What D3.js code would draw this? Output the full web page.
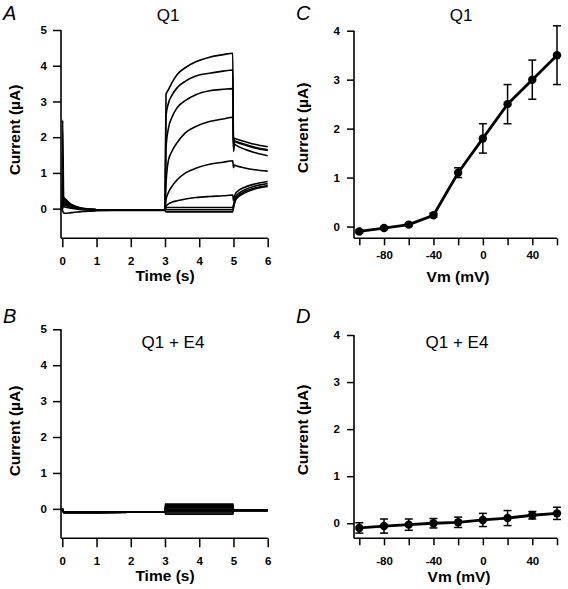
<!DOCTYPE html>
<html><head><meta charset="utf-8">
<script src="https://cdn.jsdelivr.net/npm/d3@7"></script>
<style>
body{margin:0;background:#fff}
svg{display:block}
text{font-family:"Liberation Sans",Arial,Helvetica,sans-serif;fill:#000}
</style>
</head><body>
<svg id="chart" width="568" height="589"></svg>
<script>
// ---------- Data ----------
// Panel A: Q1 current traces (time in s, current in µA), one array per voltage step
const timeA = [0, 0.01, 0.04, 0.1, 0.2, 0.35, 0.5, 0.75, 1.0, 1.5, 2.0, 2.5, 2.98, 3.0,
               3.03, 3.1, 3.2, 3.35, 3.6, 3.9, 4.3, 4.7, 4.98,
               5.0, 5.03, 5.08, 5.33, 5.62, 6.0];
const traceA60  = [0, 2.48, 0.32, 0.26, 0.16, 0.08, 0.03, -0.01, -0.03, -0.04, -0.04, -0.04, -0.04, -0.04,
                   3.2, 3.33, 3.52, 3.75, 3.95, 4.11, 4.24, 4.31, 4.35,
                   1.75, 1.97, 1.95, 1.88, 1.8, 1.73];
const traceA40  = [0, 0.38, 0.3, 0.24, 0.15, 0.07, 0.02, -0.01, -0.03, -0.04, -0.04, -0.04, -0.04, -0.04,
                   2.6, 2.95, 3.17, 3.38, 3.57, 3.71, 3.79, 3.85, 3.88,
                   1.72, 1.9, 1.88, 1.8, 1.72, 1.65];
const traceA20  = [0, 0.34, 0.27, 0.21, 0.13, 0.06, 0.02, -0.02, -0.03, -0.04, -0.04, -0.04, -0.04, -0.04,
                   1.7, 2.25, 2.55, 2.82, 3.03, 3.19, 3.3, 3.34, 3.36,
                   1.6, 1.8, 1.77, 1.66, 1.57, 1.48];
const traceA0   = [0, 0.3, 0.24, 0.18, 0.11, 0.05, 0.01, -0.02, -0.03, -0.04, -0.04, -0.04, -0.04, -0.04,
                   0.7, 1.35, 1.6, 1.84, 2.13, 2.3, 2.44, 2.51, 2.56,
                   1.7, 1.88, 1.86, 1.78, 1.7, 1.63];
const traceAm20 = [0, 0.26, 0.2, 0.15, 0.09, 0.04, 0.0, -0.02, -0.03, -0.04, -0.04, -0.04, -0.04, -0.04,
                   0.25, 0.45, 0.62, 0.8, 1.0, 1.13, 1.24, 1.3, 1.34,
                   1.15, 1.22, 1.2, 1.14, 1.09, 1.05];
const traceAm40 = [0, 0.22, 0.16, 0.12, 0.07, 0.03, 0.0, -0.02, -0.03, -0.04, -0.04, -0.04, -0.04, -0.04,
                   0.06, 0.13, 0.18, 0.22, 0.27, 0.31, 0.34, 0.36, 0.38,
                   0.22, 0.35, 0.45, 0.6, 0.69, 0.76];
const traceAm60 = [0, 0.17, 0.12, 0.09, 0.05, 0.02, -0.01, -0.03, -0.04, -0.04, -0.04, -0.04, -0.04, -0.04,
                   0.03, 0.03, 0.03, 0.03, 0.03, 0.03, 0.03, 0.03, 0.03,
                   0.1, 0.22, 0.36, 0.53, 0.63, 0.7];
const traceAm80 = [0, 0.1, 0.06, 0.04, 0.02, 0.0, -0.02, -0.03, -0.04, -0.04, -0.04, -0.04, -0.04, -0.04,
                   -0.03, -0.03, -0.03, -0.03, -0.03, -0.03, -0.03, -0.03, -0.03,
                   0.05, 0.18, 0.31, 0.48, 0.58, 0.65];
const traceAm100 = [0, -0.06, -0.12, -0.13, -0.12, -0.1, -0.09, -0.07, -0.06, -0.05, -0.05, -0.05, -0.05, -0.05,
                   -0.09, -0.09, -0.09, -0.09, -0.09, -0.09, -0.09, -0.09, -0.09,
                   0.02, 0.14, 0.27, 0.44, 0.55, 0.62];
const tracesA = [traceA60, traceA40, traceA20, traceA0, traceAm20, traceAm40, traceAm60, traceAm80, traceAm100];

// Panel B: Q1 + E4 current traces
const timeB = [0, 0.02, 0.05, 1, 2, 2.99, 3.0, 3.02, 4, 4.98, 5.0, 5.02, 6];
const stepLevelsB = [0.13, 0.095, 0.06, 0.025, -0.01, -0.045, -0.08, -0.115, -0.15];
const tracesB = stepLevelsB.map(v => [0, -0.06, -0.1, -0.1, -0.09, -0.08, -0.08, v, v, v, -0.04, -0.04, -0.04]);

// Panels C and D: I–V relations
const vm = [-100, -80, -60, -40, -20, 0, 20, 40, 60];
const currentQ1 = [-0.1, -0.03, 0.04, 0.23, 1.1, 1.8, 2.5, 3.0, 3.5];
const errorQ1   = [0.03, 0.03, 0.03, 0.04, 0.1, 0.3, 0.4, 0.4, 0.6];
const currentQ1E4 = [-0.1, -0.06, -0.03, 0.0, 0.02, 0.07, 0.11, 0.17, 0.21];
const errorQ1E4   = [0.11, 0.15, 0.12, 0.1, 0.11, 0.14, 0.16, 0.08, 0.13];

// Ticks
const timeTicks = [0, 1, 2, 3, 4, 5, 6];
const currentTicksAB = [0, 1, 2, 3, 4, 5];
const currentTicksCD = [0, 1, 2, 3, 4];
const vmTicks = [-100, -80, -60, -40, -20, 0, 20, 40, 60];
const vmLabeled = [-80, -40, 0, 40];

// ---------- Drawing ----------
const svg = d3.select("#chart");

function axes(g, x, y, o) {
  const ya = d3.axisLeft(y).tickValues(o.yTicks).tickSize(o.yTick).tickSizeOuter(0)
    .tickPadding(o.yPad).tickFormat(d3.format("d"));
  const gy = g.append("g").attr("transform", `translate(${o.yAxisX},0)`).call(ya);
  const xa = d3.axisBottom(x).tickValues(o.xTicks).tickSize(o.xTick).tickSizeOuter(0)
    .tickPadding(o.xPad).tickFormat(o.xFormat);
  const gx = g.append("g").attr("transform", `translate(0,${o.xAxisY})`).call(xa);
  [gx, gy].forEach(a => {
    a.select(".domain").attr("stroke", "#000").attr("stroke-width", 1.6);
    a.selectAll(".tick line").attr("stroke", "#000").attr("stroke-width", 1.5);
    a.selectAll(".tick text").attr("font-size", 11.5).attr("font-weight", "bold")
      .attr("font-family", '"Liberation Sans",Arial,sans-serif').attr("fill", "#000");
  });
  gx.select(".domain").attr("d", `M${o.yAxisX},0H${x.range()[1]}`);
  gy.select(".domain").attr("d", `M0,${y.range()[0]}V${y.range()[1]}`);
  g.append("text").attr("x", o.xLabelX).attr("y", o.xLabelY).attr("text-anchor", "middle")
    .attr("font-size", 15.5).attr("font-weight", "bold").text(o.xLabel);
  g.append("text").attr("transform", `translate(${o.yLabelX},${o.yLabelY}) rotate(-90)`)
    .attr("text-anchor", "middle").attr("font-size", 15.5).attr("font-weight", "bold").text("Current (µA)");
  g.append("text").attr("x", o.titleX).attr("y", o.titleY).attr("text-anchor", "middle")
    .attr("font-size", 17).text(o.title);
  g.append("text").attr("x", o.letterX).attr("y", o.letterY).attr("font-size", 20)
    .attr("font-style", "italic").text(o.letter);
}

const intFmt = d3.format("d");

// Panel A
{
  const g = svg.append("g");
  const x = d3.scaleLinear().domain([0, 6]).range([62.3, 267.7]);
  const y = d3.scaleLinear().domain([-0.83, 5]).range([238.3, 30]);
  const line = d3.line().x((d, i) => x(timeA[i])).y(d => y(d)).curve(d3.curveMonotoneX);
  g.selectAll("path.tr").data(tracesA).join("path").attr("class", "tr")
    .attr("d", line).attr("fill", "none").attr("stroke", "#000").attr("stroke-width", 1.6);
  axes(g, x, y, {yTicks: currentTicksAB, yTick: 8, yPad: 6, yAxisX: 61, xTicks: timeTicks, xTick: 9, xPad: 10,
    xFormat: intFmt, xAxisY: 238.3, xLabel: "Time (s)", xLabelX: 165, xLabelY: 281,
    yLabelX: 20, yLabelY: 130, title: "Q1", titleX: 168, titleY: 21, letter: "A", letterX: 3, letterY: 20});
}

// Panel B
{
  const g = svg.append("g");
  const x = d3.scaleLinear().domain([0, 6]).range([62.3, 267.7]);
  const y = d3.scaleLinear().domain([-0.82, 5]).range([538.3, 329.3]);
  const line = d3.line().x((d, i) => x(timeB[i])).y(d => y(d));
  g.selectAll("path.tr").data(tracesB).join("path").attr("class", "tr")
    .attr("d", line).attr("fill", "none").attr("stroke", "#000").attr("stroke-width", 1.7);
  axes(g, x, y, {yTicks: currentTicksAB, yTick: 8, yPad: 6, yAxisX: 61, xTicks: timeTicks, xTick: 9, xPad: 10,
    xFormat: intFmt, xAxisY: 538.3, xLabel: "Time (s)", xLabelX: 165, xLabelY: 581,
    yLabelX: 20, yLabelY: 431, title: "Q1 + E4", titleX: 173, titleY: 348, letter: "B", letterX: 3, letterY: 323});
}

function ivPanel(yDomain, yRange, xAxisY, current, err, o) {
  const g = svg.append("g");
  const x = d3.scaleLinear().domain([-104.3, 60]).range([354, 557]);
  const y = d3.scaleLinear().domain(yDomain).range(yRange);
  const pts = vm.map((v, i) => ({v, c: current[i], e: err[i]}));
  const eb = g.append("g").attr("stroke", "#000").attr("stroke-width", 1.5);
  pts.forEach(p => {
    eb.append("line").attr("x1", x(p.v)).attr("x2", x(p.v)).attr("y1", y(p.c - p.e)).attr("y2", y(p.c + p.e));
    [p.c - p.e, p.c + p.e].forEach(val =>
      eb.append("line").attr("x1", x(p.v) - 4).attr("x2", x(p.v) + 4).attr("y1", y(val)).attr("y2", y(val)));
  });
  g.append("path").datum(pts).attr("d", d3.line().x(p => x(p.v)).y(p => y(p.c)))
    .attr("fill", "none").attr("stroke", "#000").attr("stroke-width", 2.8);
  g.selectAll("circle").data(pts).join("circle").attr("cx", p => x(p.v)).attr("cy", p => y(p.c))
    .attr("r", 4.2).attr("fill", "#000");
  axes(g, x, y, Object.assign({yTicks: currentTicksCD, yTick: 7, yPad: 7, yAxisX: 354, xTicks: vmTicks, xTick: 7,
    xFormat: d => vmLabeled.includes(d) ? d : "", xAxisY: xAxisY}, o));
}

ivPanel([-0.24, 4], [238.3, 30.7], 238.3, currentQ1, errorQ1,
  {xPad: 6, xLabel: "Vm (mV)", xLabelX: 458, xLabelY: 282, yLabelX: 308, yLabelY: 128,
   title: "Q1", titleX: 461, titleY: 21, letter: "C", letterX: 296, letterY: 20});
ivPanel([-0.32, 4], [538.3, 335], 538.3, currentQ1E4, errorQ1E4,
  {xPad: 12, xLabel: "Vm (mV)", xLabelX: 459, xLabelY: 582, yLabelX: 308, yLabelY: 430,
   title: "Q1 + E4", titleX: 457, titleY: 348, letter: "D", letterX: 296, letterY: 323});
</script>
</body></html>
